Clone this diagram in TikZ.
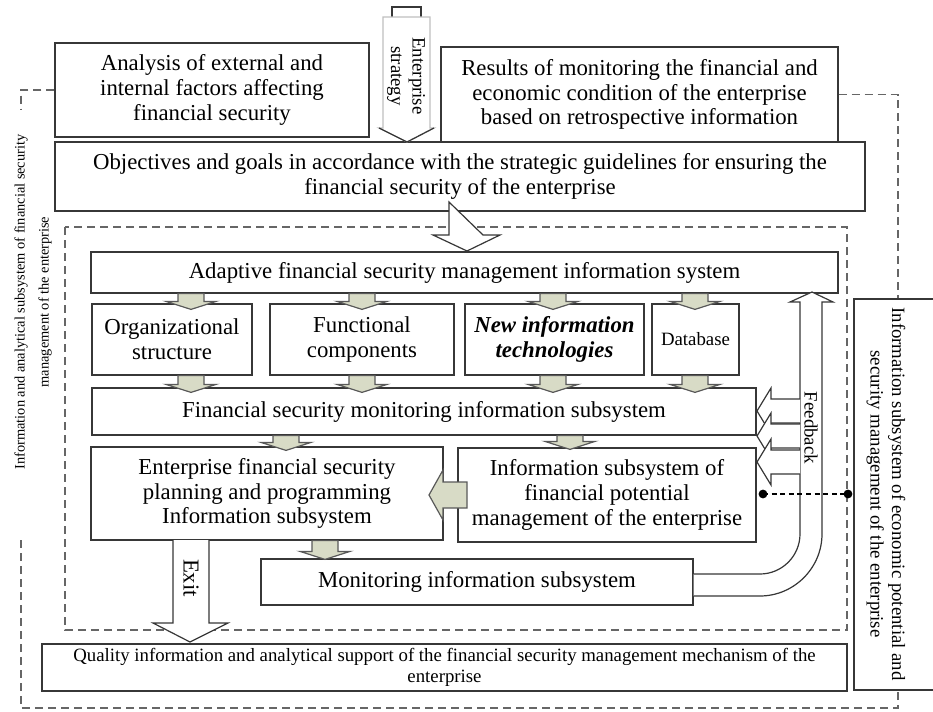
\documentclass[tikz,border=0pt]{standalone}
\usepackage{fontspec}
\setmainfont{Liberation Serif}
\usetikzlibrary{calc}

\definecolor{boxline}{RGB}{55,55,55}
\definecolor{arrowgreen}{RGB}{216,219,198}
\newcommand{\mainsz}{\fontsize{11.4}{12.4}\selectfont}
\newcommand{\smallsz}{\fontsize{9.4}{10.8}\selectfont}
\newcommand{\tinysz}{\fontsize{7.2}{12}\selectfont}

% box from corner (x1,y1) to (x2,y2) in px: name, x1, y1, x2, y2, options, text
\newcommand{\blkbox}[7]{%
  \node[blk,#6,minimum width={(#4-#2)*0.5pt},minimum height={(#5-#3)*0.5pt}]
    (#1) at ({(#2+#4)/2},{(#3+#5)/2}) {#7};}

% green block arrow downwards: x (px), from anchor, to anchor, overshoot (px)
\newcommand{\dnarrow}[4]{%
  \draw[garrow] let \p0=(#1,0), \p1=(#2), \p2=(#3) in
    (\x0-6.5pt,\y1) -- (\x0-6.5pt,\y2-#4*0.5pt+4pt) -- (\x0-12.5pt,\y2-#4*0.5pt+4pt)
    -- (\x0,\y2-#4*0.5pt) -- (\x0+12.5pt,\y2-#4*0.5pt+4pt) -- (\x0+6.5pt,\y2-#4*0.5pt+4pt)
    -- (\x0+6.5pt,\y1) -- cycle;}

\begin{document}
\begin{tikzpicture}[x=0.5pt,y=-0.5pt,
   blk/.style={draw=boxline,line width=0.6pt,inner sep=0pt,align=center,font=\mainsz},
   dashline/.style={draw=black!60,line width=0.6pt,dash pattern=on 4pt off 2.5pt},
   garrow/.style={draw=black!65,line width=0.6pt,fill=arrowgreen},
   warrow/.style={draw=boxline,line width=0.6pt,fill=white},
   dotline/.style={line width=0.8pt,dash pattern=on 2.5pt off 1.8pt}]
 \useasboundingbox (0,0) rectangle (933,712);

 %top boxes
 \blkbox{ana}{55}{43}{369}{137}{}{Analysis of external and\\internal factors affecting\\financial security}
 \blkbox{res}{441}{47}{838}{142}{}{Results of monitoring the financial and\\economic condition of the enterprise\\based on retrospective information}
 \blkbox{obj}{55}{142}{865}{211}{}{Objectives and goals in accordance with the strategic guidelines for ensuring the\\financial security of the enterprise}

 %outer dashed frame and side box
 \draw[dashline] (ana.west) -| (21,110);
 \draw[dashline] (21,540) |- (898,708) -- (898,690);
 \draw[dashline] (res.east) -| (898,299);
 \blkbox{side}{854}{299}{940}{690}{}{}
 \node[rotate=-90, align=center, font=\smallsz] (sidetxt) at (886,494)
   {Information subsystem of economic potential and\\security management of the enterprise};
 \node[rotate=90, align=center, font=\tinysz] (lefttxt) at (33,302)
   {Information and analytical subsystem of financial security\\management of the enterprise};

 %inner dashed frame
 \draw[dashline] (65,227) rectangle (847,630);

 \blkbox{adapt}{91}{252}{838}{293}{}{Adaptive financial security management information system}
 \blkbox{org}{92}{304}{252}{375}{}{Organizational\\structure}
 \blkbox{func}{270}{304}{454}{375}{}{Functional\\components}
 \blkbox{newit}{465}{304}{644}{375}{font=\mainsz\bfseries\itshape}{New information\\technologies}
 \blkbox{db}{652}{304}{739}{375}{font=\smallsz}{Database}
 \blkbox{fsm}{92}{388}{756}{435}{}{Financial security monitoring information subsystem}
 \blkbox{plan}{91}{447}{443}{540}{}{Enterprise financial security\\planning and programming\\Information subsystem}
 \blkbox{pot}{458}{448}{756}{542}{}{Information subsystem of\\financial potential\\management of the enterprise}
 \blkbox{moninfo}{261}{559}{693}{605}{}{Monitoring information subsystem}
 \blkbox{qual}{42}{644}{847}{691}{font=\smallsz}{Quality information and analytical support of the financial security management mechanism of the\\enterprise}

 %enterprise strategy arrow
 \draw[boxline, line width=0.6pt] (392,17) -- (392,7) -- (421,7) -- (421,17);
 \draw[draw=black!25, fill=white, line width=0.6pt] (383,17) -- (383,128) -- (379,128) -- (407,142)
   -- (434,128) -- (430,128) -- (430,17) -- cycle;
 \draw[boxline, line width=0.6pt] (379,128) -- (407,142) -- (434,128);
 \node[rotate=-90, align=center, font=\smallsz] (strat) at (406,76) {Enterprise\\strategy};

 %big arrow into the information system
 \draw[warrow] (449,202) -- (449,235) -- (433,235) -- (467,251) -- (500,235) -- (483,235) -- cycle;

 %green arrows
 \dnarrow{191}{adapt.south}{org.north}{6}
 \dnarrow{362}{adapt.south}{func.north}{6}
 \dnarrow{553}{adapt.south}{newit.north}{6}
 \dnarrow{695}{adapt.south}{db.north}{6}
 \dnarrow{191}{org.south}{fsm.north}{5}
 \dnarrow{362}{func.south}{fsm.north}{5}
 \dnarrow{553}{newit.south}{fsm.north}{5}
 \dnarrow{695}{db.south}{fsm.north}{5}
 \dnarrow{286}{fsm.south}{plan.north}{4}
 \dnarrow{570}{fsm.south}{pot.north}{2}
 \dnarrow{325}{plan.south}{moninfo.north}{1}
 \draw[garrow] (467,482) -- (443,482) -- (443,470) -- (429,495) -- (443,520) -- (443,508) -- (467,508) -- cycle;

 %exit
 \draw[warrow] (173,540) -- (173,623) -- (153,623) -- (190,642) -- (228,623) -- (209,623) -- (209,540);
 \node[rotate=-90, font=\mainsz] (exitlbl) at (191,578) {Exit};

 %feedback
 \draw[warrow] (moninfo.east |- 0,574) -- (760,574) .. controls (782,574) and (800,556) .. (800,534)
   -- (800,302) -- (790,302) -- (812,292) -- (833,302) -- (822,302) -- (822,534)
   .. controls (822,568) and (794,596) .. (760,596) -- (moninfo.east |- 0,596);
 \foreach \yc in {411,436,462}
   \draw[warrow] (800,\yc-12) -- (771,\yc-12) -- (771,\yc-23) -- (757,\yc) -- (771,\yc+23)
     -- (771,\yc+12) -- (800,\yc+12);
 \node[rotate=-90, font=\smallsz] (fbtxt) at (811,428) {Feedback};

 \draw[dotline] (763,494) -- (848,494);
 \fill (763,494) circle (2.2pt) (848,494) circle (2.2pt);
\end{tikzpicture}
\end{document}
